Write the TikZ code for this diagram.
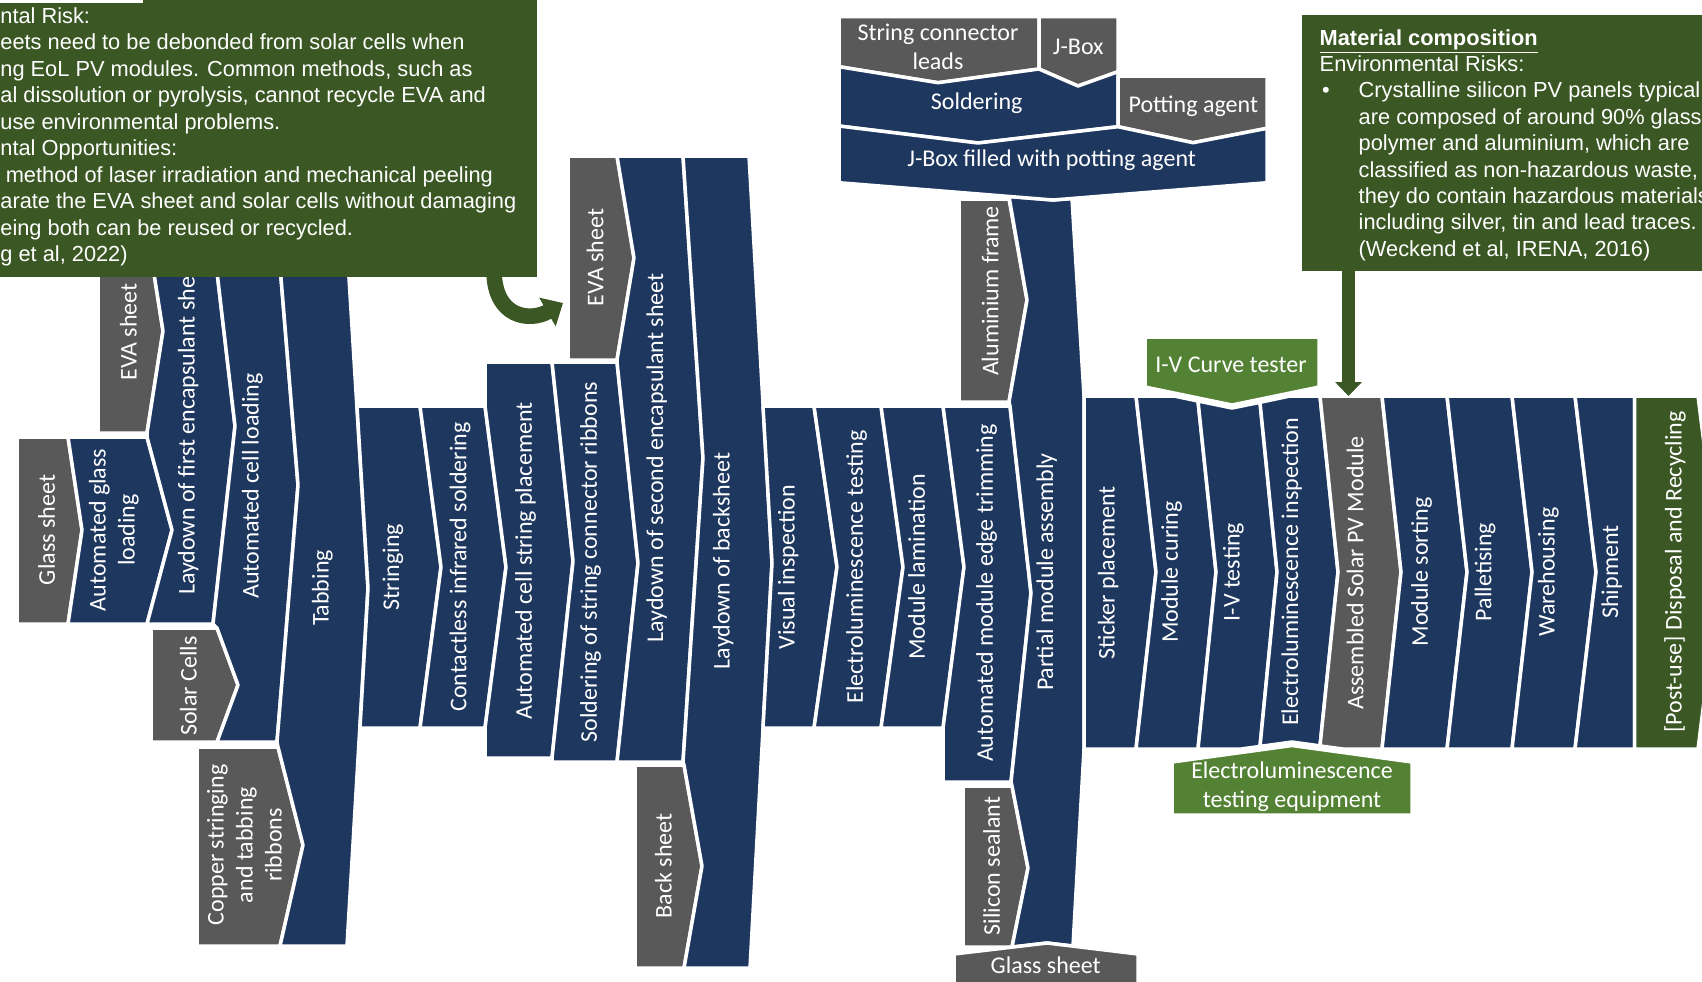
\documentclass[tikz,border=0pt]{standalone}
\usepackage{fontspec}
\setmainfont{Carlito}
\newfontfamily\arialfont{Liberation Sans}
\usetikzlibrary{arrows.meta}
\definecolor{cnavy}{HTML}{1E375F}
\definecolor{cgray}{HTML}{595959}
\definecolor{cdkg}{HTML}{3A5724}
\definecolor{cltg}{HTML}{548235}
\begin{document}
\begin{tikzpicture}[x=0.5pt,y=-0.5pt,
 shp/.style={draw=white, line width=1.75pt, line join=round},
 nv/.style={shp, fill=cnavy},
 gy/.style={shp, fill=cgray},
 lg/.style={shp, fill=cltg},
 tx/.style={text=white, font=\fontsize{12pt}{14.5pt}\selectfont, align=center, inner sep=0pt},
 rt/.style={tx, rotate=90},
 ct/.style={text=white, font=\arialfont\fontsize{10.9pt}{13.2pt}\selectfont, anchor=base west, inner sep=0pt}]
\useasboundingbox (0,0) rectangle (1702,981);
\clip (0,0) rectangle (1702,981);
% ---------- left block
\path[gy] (17,437) -- (68,437) -- (82,530) -- (68,624) -- (17,624) -- cycle;
\path[nv] (68,437) -- (147,437) -- (172,530) -- (147,624) -- (68,624) -- (82,530) -- cycle;
\path[gy] (98,229) -- (147,229) -- (163,331) -- (147,433) -- (98,433) -- cycle;
\path[nv] (147,229) -- (212,229) -- (235,426) -- (213,624) -- (147,624) -- (172,530) -- (147,437) -- (147,433) -- (163,331) -- cycle;
\path[gy] (151,628) -- (217,628) -- (238,685) -- (217,742) -- (151,742) -- cycle;
\path[nv] (212,229) -- (277,229) -- (298,485) -- (277,742) -- (217,742) -- (238,685) -- (217,628) -- (213,624) -- (235,426) -- cycle;
\path[gy] (197,747) -- (278,747) -- (303,845) -- (280,946) -- (197,946) -- cycle;
\path[nv] (277,229) -- (346,229) -- (368,588) -- (347,946) -- (280,946) -- (303,845) -- (278,747) -- (277,742) -- (298,485) -- cycle;
% ---------- row 1
\path[nv] (357,406) -- (420,406) -- (441,567) -- (420,728) -- (360,728) -- (368,588) -- cycle;
\path[nv] (420,406) -- (485,406) -- (506,567) -- (485,728) -- (420,728) -- (441,567) -- cycle;
\path[nv] (485,362) -- (552,362) -- (573,561) -- (552,758) -- (485,758) -- (485,728) -- (506,567) -- (485,406) -- cycle;
\path[nv] (552,362) -- (617,362) -- (638,563) -- (617,762) -- (552,762) -- (552,758) -- (573,561) -- cycle;
\path[gy] (568,156) -- (617,156) -- (634,258) -- (617,360) -- (568,360) -- cycle;
\path[nv] (617,156) -- (683,156) -- (703,458) -- (683,762) -- (617,762) -- (638,563) -- (617,362) -- (617,360) -- (634,258) -- cycle;
\path[gy] (635,765) -- (684,765) -- (702,866) -- (684,968) -- (635,968) -- cycle;
\path[nv] (683,156) -- (749,156) -- (772,563) -- (750,968) -- (684,968) -- (702,866) -- (684,765) -- (683,762) -- (703,458) -- cycle;
\path[nv] (763,406) -- (814,406) -- (837,567) -- (814,728) -- (763,728) -- (772,563) -- cycle;
\path[nv] (814,406) -- (881,406) -- (903,567) -- (881,728) -- (814,728) -- (837,567) -- cycle;
\path[nv] (881,406) -- (943,406) -- (964,567) -- (943,728) -- (881,728) -- (903,567) -- cycle;
\path[nv] (943,406) -- (1010,406) -- (1031,593) -- (1011,782) -- (943,782) -- (943,728) -- (964,567) -- cycle;
\path[gy] (959,199) -- (1009,199) -- (1027,300) -- (1009,402) -- (959,402) -- cycle;
\path[gy] (963,786) -- (1012,786) -- (1028,868) -- (1012,947) -- (963,947) -- cycle;
\path[nv] (1009,196.5) -- (1053,200) -- (1072,198.5) -- (1084,396) -- (1084,749) -- (1073,946) -- (1047,943) -- (1012,947) -- (1028,868) -- (1012,786) -- (1011,782) -- (1031,593) -- (1010,406) -- (1009,402) -- (1027,300) -- cycle;
\path[gy] (954,954) -- (1047,943) -- (1138,954) -- (1138,990) -- (954,990) -- cycle;
% ---------- top group
\path[gy] (839,16.7) -- (1039,16.7) -- (1039,69) -- (938,82.7) -- (839,66.7) -- cycle;
\path[gy] (1039,16.7) -- (1118,16.7) -- (1118,71.7) -- (1078,86) -- (1039,69) -- cycle;
\path[nv] (839,66.7) -- (938,82.7) -- (1039,69) -- (1078,86) -- (1118,71.7) -- (1118,126.7) -- (978,143) -- (839,126) -- cycle;
\path[gy] (1118,76) -- (1267,76) -- (1267,128.3) -- (1193,142.7) -- (1118,126.7) -- cycle;
\path[nv] (839,126) -- (978,143) -- (1118,126.7) -- (1193,142.7) -- (1267,128.3) -- (1267,182.7) -- (1053,200) -- (839,182.7) -- cycle;
% ---------- row 2
\path[nv] (1084,396) -- (1136,396) -- (1156,572) -- (1136,749) -- (1084,749) -- cycle;
\path[nv] (1136,396) -- (1174,396) -- (1198,401) -- (1216,572) -- (1198,749) -- (1136,749) -- (1156,572) -- cycle;
\path[nv] (1198,401) -- (1232,408) -- (1260,402.3) -- (1277,572) -- (1260,746.4) -- (1241,749) -- (1198,749) -- (1216,572) -- cycle;
\path[nv] (1260,402.3) -- (1290,396) -- (1320,396) -- (1338,572) -- (1320,745.9) -- (1292,742) -- (1260,746.4) -- (1277,572) -- cycle;
\path[gy] (1320,396) -- (1382,396) -- (1401,572) -- (1382,749) -- (1343,749) -- (1320,745.9) -- (1338,572) -- cycle;
\path[nv] (1382,396) -- (1447,396) -- (1467,572) -- (1447,749) -- (1382,749) -- (1401,572) -- cycle;
\path[nv] (1447,396) -- (1512,396) -- (1532,572) -- (1512,749) -- (1447,749) -- (1467,572) -- cycle;
\path[nv] (1512,396) -- (1575,396) -- (1596,572) -- (1575,749) -- (1512,749) -- (1532,572) -- cycle;
\path[nv] (1575,396) -- (1634.5,396) -- (1634.5,749) -- (1575,749) -- (1596,572) -- cycle;
\path[shp, fill=cdkg] (1634.5,396) -- (1698,396) -- (1720,572) -- (1698,749) -- (1634.5,749) -- cycle;
\path[lg] (1145,337) -- (1319,337) -- (1319,387) -- (1232,405) -- (1145,387) -- cycle;
\path[lg] (1172,762) -- (1292,745.5) -- (1412,762) -- (1412,815) -- (1172,815) -- cycle;
% ---------- texts
\node[rt] (tglass1) at (46.7,530) {Glass sheet};
\node[rt] (tautoglass) at (113.8,530) {Automated glass\\loading};
\node[rt] (teva1) at (128.3,332) {EVA sheet};
\node[rt] (tlay1) at (188.3,426) {Laydown of first encapsulant sheet};
\node[rt] (tcell) at (252.3,486) {Automated cell loading};
\node[rt] (tsolar) at (188.3,686) {Solar Cells};
\node[rt] (tcopper) at (244.4,845) {Copper stringing\\and tabbing\\ribbons};
\node[rt] (ttab) at (322.3,588) {Tabbing};
\node[rt] (tstr) at (393,567) {Stringing};
\node[rt] (tcont) at (460,567) {Contactless infrared soldering};
\node[rt] (tcsp) at (525.7,561) {Automated cell string placement};
\node[rt] (tsscr) at (590.7,562) {Soldering of string connector ribbons};
\node[rt] (teva2) at (595,257.5) {EVA sheet};
\node[rt] (tlay2) at (656.7,458) {Laydown of second encapsulant sheet};
\node[rt] (tback) at (663.3,866) {Back sheet};
\node[rt] (tlayb) at (723.3,561) {Laydown of backsheet};
\node[rt] (tvis) at (788.3,567) {Visual inspection};
\node[rt] (telt) at (856.7,567) {Electroluminescence testing};
\node[rt] (tlam) at (916.7,567) {Module lamination};
\node[rt] (ttrim) at (986.7,593) {Automated module edge trimming};
\node[rt] (talu) at (990,291) {Aluminium frame};
\node[rt] (tpart) at (1046.7,572) {Partial module assembly};
\node[rt] (tsil) at (991.7,866) {Silicon sealant};
\node[tx] (tglass2) at (1045.7,965) {Glass sheet};
\node[rt] (tstick) at (1108.3,573) {Sticker placement};
\node[rt] (tcur) at (1171.7,572) {Module curing};
\node[rt] (tiv) at (1233.3,572) {I-V testing};
\node[rt] (telin) at (1291.7,572) {Electroluminescence inspection};
\node[rt] (tasm) at (1355,573) {Assembled Solar PV Module};
\node[rt] (tsort) at (1421.7,572) {Module sorting};
\node[rt] (tpal) at (1485,572) {Palletising};
\node[rt] (tware) at (1548.3,572) {Warehousing};
\node[rt] (tship) at (1611.7,572) {Shipment};
\node[rt] (tpost) at (1675,572) {[Post-use] Disposal and Recycling};
\node[tx] (tivc) at (1231,364.7) {I-V Curve tester};
\node[tx] (teleq) at (1292,786.5) {Electroluminescence\\testing equipment};
\node[tx] (tscl) at (938,46.7) {String connector\\leads};
\node[tx] (tjbox) at (1078.3,46.7) {J-Box};
\node[tx] (tsold) at (976.7,103.3) {Soldering};
\node[tx] (tpot) at (1193.3,106) {Potting agent};
\node[tx] (tjbf) at (1051.7,160) {J-Box filled with potting agent};
% ---------- left callout
\path[fill=cdkg] (-5,-5) rectangle (537,277);
\path[fill=white] (-5,-5) rectangle (143,2.7);
\node[ct] (l1) at (0,23.3) {ntal Risk:};
\node[ct] (l2) at (0,49.8) {eets need to be debonded from solar cells when};
\node[ct] (l3) at (0,76.3) {ng EoL PV modules. Common methods, such as};
\node[ct] (l4) at (0,102.8) {al dissolution or pyrolysis, cannot recycle EVA and};
\node[ct] (l5) at (0,129.3) {use environmental problems.};
\node[ct] (l6) at (0,155.8) {ntal Opportunities:};
\node[ct] (l7) at (5.4,182.3) {method of laser irradiation and mechanical peeling};
\node[ct] (l8) at (0,208.8) {arate the EVA sheet and solar cells without damaging};
\node[ct] (l9) at (0,235.3) {eing both can be reused or recycled.};
\node[ct] (l10) at (0,261.8) {g et al, 2022)};
\coordinate (a1s) at (494,270);
\coordinate (a1e) at (563,303);
\draw[cdkg, line width=7.8pt, -{Triangle[length=9pt,width=16pt]}] (a1s) .. controls (494,318) and (530,322) .. (a1e);
% ---------- right callout
\path[fill=cdkg] (1302,15) rectangle (1710,271);
\node[ct] (r1) at (1319.3,45) {\underline{\textbf{Material composition}}};
\node[ct] (r2) at (1319.3,71.4) {Environmental Risks:};
\node[ct] (r3) at (1321.7,97.8) {•};
\node[ct] (r4) at (1358.3,97.8) {Crystalline silicon PV panels typical};
\node[ct] (r5) at (1358.3,124.2) {are composed of around 90\% glass};
\node[ct] (r6) at (1358.3,150.6) {polymer and aluminium, which are};
\node[ct] (r7) at (1358.3,177) {classified as non-hazardous waste,};
\node[ct] (r8) at (1358.3,203.4) {they do contain hazardous materials};
\node[ct] (r9) at (1358.3,229.8) {including silver, tin and lead traces.};
\node[ct] (r10) at (1358.3,256.2) {(Weckend et al, IRENA, 2016)};
\coordinate (a2s) at (1348.5,265);
\coordinate (a2e) at (1348.5,396);
\draw[cdkg, line width=6.5pt, -{Triangle[length=7pt,width=13pt]}] (a2s) -- (a2e);
\end{tikzpicture}
\end{document}
